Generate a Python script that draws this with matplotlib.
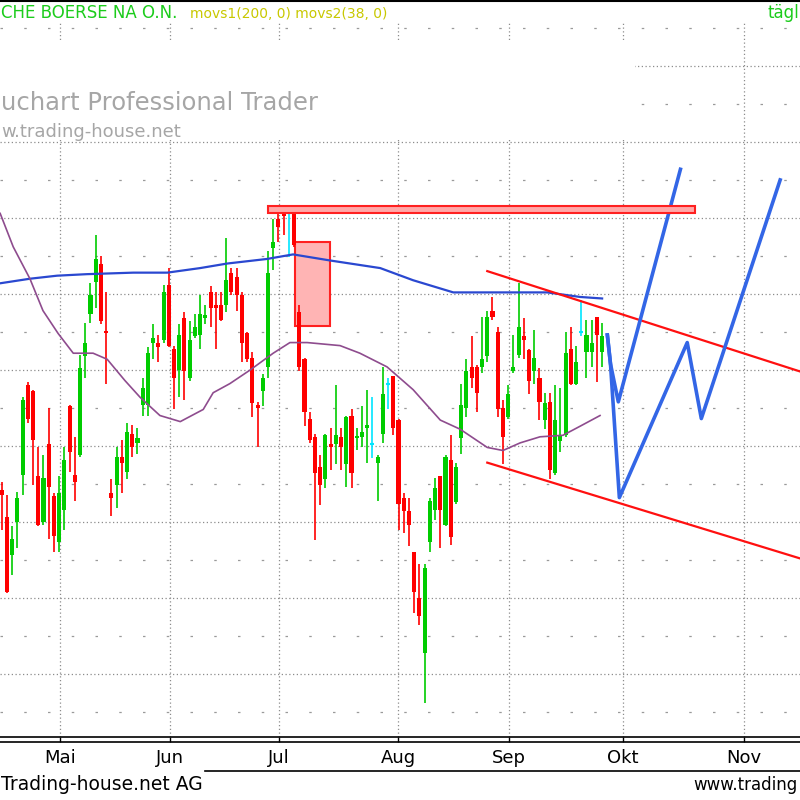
import matplotlib
matplotlib.use("Agg")
import matplotlib.pyplot as plt
from matplotlib.patches import Rectangle
from matplotlib.lines import Line2D
import numpy as np

# ---------------- data ----------------
opens = [97.1, 95.3, 92.8, 95.0, 98.1, 104.0, 103.6, 98.0, 95.0, 100.1,
         96.7, 93.7, 95.8, 102.6, 98.1, 99.4, 105.9, 108.7, 110.8, 112.0,
         107.5, 96.9, 97.4, 99.3, 98.3, 100.8, 100.2, 102.7, 102.7, 106.8,
         106.8, 107.0, 110.6, 106.4, 105.0, 108.4, 104.5, 107.2, 107.3, 108.4,
         110.1, 109.2, 109.3, 109.3, 111.4, 111.1, 109.9, 107.4, 105.8, 102.7,
         103.6, 105.2, 113.0, 114.9, 115.4, 115.6, 115.4, 108.8, 105.7, 101.8,
         100.6, 98.6, 97.8, 100.1, 100.1, 100.6, 98.8, 102.0, 100.5, 100.6,
         101.2, 100.1, 98.9, 100.8, 104.1, 104.6, 101.7, 96.6, 95.7, 93.0,
         90.0, 86.4, 93.7, 95.8, 98.0, 94.8, 99.1, 96.3, 100.5, 102.5,
         105.2, 105.2, 105.2, 105.9, 108.9, 107.5, 102.5, 101.9, 104.9, 106.0,
         107.2, 106.3, 104.9, 104.5, 101.7, 102.9, 98.2, 100.3, 100.7, 106.4,
         104.1, 107.5, 106.2, 106.2, 108.5, 106.2]
highs = [97.6, 96.8, 94.7, 97.0, 103.2, 104.2, 103.7, 99.9, 99.4, 102.5,
         96.9, 98.0, 99.9, 102.7, 100.6, 106.0, 108.1, 110.7, 113.9, 112.5,
         110.1, 97.8, 99.9, 100.4, 101.5, 101.4, 101.2, 104.5, 106.5, 108.0,
         107.3, 110.6, 111.7, 106.6, 108.0, 108.8, 108.2, 108.7, 109.9, 109.3,
         110.5, 110.1, 110.1, 113.7, 111.7, 111.7, 110.1, 107.5, 106.2, 102.9,
         104.7, 112.8, 114.9, 115.4, 115.7, 115.7, 115.7, 109.3, 105.8, 102.2,
         100.8, 99.4, 100.8, 101.2, 104.0, 101.2, 102.0, 102.4, 101.2, 102.6,
         103.7, 103.2, 99.4, 105.2, 104.5, 104.6, 101.8, 96.9, 96.6, 93.0,
         92.2, 92.2, 96.6, 97.9, 98.0, 99.4, 100.7, 98.9, 104.1, 105.7,
         107.2, 105.3, 108.5, 108.9, 109.8, 107.8, 103.0, 104.0, 107.3, 110.7,
         108.4, 106.4, 107.6, 105.1, 103.5, 103.5, 104.0, 103.8, 107.5, 107.8,
         106.6, 109.6, 108.3, 108.3, 108.5, 108.1]
lows = [94.5, 90.3, 91.5, 93.3, 96.8, 101.5, 97.4, 94.7, 94.8, 93.9,
        93.0, 93.0, 94.5, 98.3, 96.4, 99.3, 104.5, 108.1, 109.1, 108.0,
        104.1, 95.4, 95.9, 96.9, 97.8, 99.3, 99.5, 102.0, 102.0, 105.7,
        105.5, 106.8, 106.5, 102.4, 103.2, 103.0, 104.3, 107.1, 106.4, 108.0,
        107.8, 106.4, 108.2, 108.8, 109.9, 108.9, 105.5, 105.5, 101.9, 99.9,
        102.6, 104.5, 111.6, 113.4, 113.9, 112.4, 113.1, 104.9, 101.3, 100.2,
        93.8, 96.1, 97.2, 98.4, 98.8, 98.4, 97.3, 97.2, 99.7, 99.9,
        98.9, 99.2, 96.4, 100.2, 102.4, 100.7, 94.5, 94.3, 93.4, 89.0,
        88.2, 83.1, 93.0, 95.1, 93.3, 94.7, 93.5, 96.2, 99.5, 101.9,
        103.8, 102.2, 104.8, 105.5, 108.3, 101.9, 98.8, 101.8, 104.8, 105.8,
        105.7, 103.4, 104.1, 101.7, 101.1, 97.8, 98.1, 99.6, 100.6, 104.0,
        104.0, 107.2, 104.5, 105.2, 104.2, 105.2]
closes = [96.8, 90.4, 93.9, 96.6, 103.0, 101.8, 100.4, 94.8, 97.9, 97.3,
          94.1, 96.9, 99.1, 99.6, 97.6, 105.1, 106.8, 109.9, 112.3, 108.2,
          107.4, 96.6, 99.3, 98.9, 100.9, 99.9, 100.5, 103.8, 106.1, 107.1,
          106.5, 110.1, 106.6, 104.5, 107.3, 104.9, 107.0, 107.8, 108.7, 108.6,
          109.1, 109.1, 108.3, 110.9, 110.1, 109.9, 106.8, 105.7, 102.8, 102.5,
          104.5, 111.4, 113.4, 114.4, 115.1, 115.6, 113.2, 105.2, 102.2, 100.4,
          98.2, 97.4, 100.7, 99.9, 100.7, 99.9, 101.9, 98.2, 100.6, 100.9,
          101.4, 100.1, 99.3, 103.4, 104.1, 101.2, 96.2, 95.7, 94.8, 90.4,
          88.8, 92.0, 96.4, 97.2, 95.8, 99.3, 94.0, 98.6, 102.7, 104.9,
          104.5, 103.5, 105.7, 108.5, 108.5, 102.4, 100.6, 103.4, 105.2, 107.8,
          107.0, 104.3, 105.8, 102.9, 102.8, 98.4, 101.7, 100.7, 106.1, 104.1,
          105.5, 107.5, 107.3, 106.8, 107.3, 107.2]

# moving averages (day index / price)
ma200_x = [-0.3, 5.4, 10.6, 16.3, 25.2, 31.7, 38.0, 43.2, 50.8, 55.8,
           62.9, 72.5, 78.8, 86.5, 97.9, 104.5, 110.8, 115.0]
ma200_y = [110.7, 111.0, 111.2, 111.3, 111.4, 111.4, 111.7, 112.0, 112.3, 112.6,
           112.2, 111.7, 110.9, 110.1, 110.1, 110.1, 109.8, 109.7]
ma38_x = [-0.3, 2.2, 5.4, 7.9, 10.8, 13.7, 17.5, 20.2, 23.6, 26.5, 30.3,
          34.2, 38.6, 40.5, 43.7, 47.6, 52.0, 55.2, 58.5, 64.8, 68.6, 73.8,
          78.8, 84.0, 87.8, 93.0, 96.0, 99.3, 103.1, 107.5, 110.8, 114.6]
ma38_y = [115.3, 113.1, 111.0, 108.9, 107.4, 106.1, 106.1, 105.7, 104.3, 103.2, 102.0,
          101.6, 102.4, 103.5, 104.1, 105.0, 106.1, 106.8, 106.8, 106.6, 106.1, 105.2,
          103.7, 101.7, 101.1, 99.9, 99.7, 100.2, 100.6, 100.7, 101.3, 102.0]

month_pos = [11.17, 32.25, 53.12, 75.92, 97.18, 119.0, 142.2]
month_labels = ["Mai", "Jun", "Jul", "Aug", "Sep", "Okt", "Nov"]

band_x = [51.0, 132.8]
band_y = [115.3, 115.8]
gap_x = [56.2, 62.9]
gap_y = [107.9, 113.4]
upper_ch_x = [93.0, 152.9]
upper_ch_y = [111.5, 104.9]
lower_ch_x = [93.0, 152.9]
lower_ch_y = [98.9, 92.6]
projA_x = [116.0, 116.6, 118.1, 130.0]
projA_y = [107.3, 105.4, 102.9, 118.2]
projB_x = [116.0, 116.6, 118.3, 131.3, 134.0, 149.1]
projB_y = [107.3, 105.4, 96.6, 106.8, 101.8, 117.5]

# ---------------- figure ----------------
W, H = 800, 800
fig = plt.figure(figsize=(8, 8), dpi=100)
fig.patch.set_facecolor("white")

def fx(px):
    return px / W

def fy(py):
    return 1 - py / H

ax_top, ax_bot = 22, 737
ax = fig.add_axes([0, fy(ax_bot), 1, (ax_bot - ax_top) / H])
ax.set_facecolor("white")
ax.set_xlim(-0.33, 152.9)
ax.set_ylim(80.85, 127.89)

# grid
major = np.arange(85, 126, 5)
minor = np.arange(82.5, 128, 5)
for v in major:
    ax.axhline(v, color="#8c8c8c", lw=0.9, linestyle=(0, (1, 2)), zorder=1)
for v in minor:
    ax.axhline(v, color="#9a9a9a", lw=0.9, linestyle=(0, (2, 17)), zorder=1)
for m in month_pos:
    ax.axvline(m, color="#8c8c8c", lw=0.9, linestyle=(0, (1, 2)), zorder=1)

# white area behind the watermark
ax.add_patch(Rectangle((-0.33, 120.2), 121.6, 6.4, facecolor="white",
                       edgecolor="none", zorder=1.5))

# gap box and resistance band
ax.add_patch(Rectangle((gap_x[0], gap_y[0]), gap_x[1] - gap_x[0], gap_y[1] - gap_y[0],
                       facecolor="#ffb4b4", edgecolor="#ff2020", lw=1.5, zorder=2))
ax.add_patch(Rectangle((band_x[0], band_y[0]), band_x[1] - band_x[0], band_y[1] - band_y[0],
                       facecolor="#ffa8a8", edgecolor="#ff2020", lw=1.5, zorder=5))

# candles
n = len(opens)
xs = np.arange(n)
for i in range(n):
    o, h, l, c = opens[i], highs[i], lows[i], closes[i]
    if c > o:
        col = "#00cc00"
    elif c < o:
        col = "#ff0000"
    else:
        col = "#00e5ff"
    ax.vlines(xs[i], l, h, color=col, lw=1.2, zorder=3)
    if c == o:
        ax.hlines(o, xs[i] - 0.4, xs[i] + 0.4, color=col, lw=1.5, zorder=3)
    else:
        bot = min(o, c)
        hgt = max(abs(c - o), 0.18)
        ax.bar(xs[i], hgt, bottom=bot, width=0.78, color=col, edgecolor="none",
               zorder=3)

# moving averages
ax.plot(ma200_x, ma200_y, color="#2a48d0", lw=1.6, zorder=4)
ax.plot(ma38_x, ma38_y, color="#8e4c8e", lw=1.2, zorder=4)

# channel and projections
ax.plot(upper_ch_x, upper_ch_y, color="#ff1010", lw=1.6, zorder=4)
ax.plot(lower_ch_x, lower_ch_y, color="#ff1010", lw=1.6, zorder=4)
ax.plot(projA_x, projA_y, color="#3366e6", lw=2.6, zorder=4, solid_joinstyle="round")
ax.plot(projB_x, projB_y, color="#3366e6", lw=2.6, zorder=4, solid_joinstyle="round")

# axes styling
for s in ["left", "right", "top"]:
    ax.spines[s].set_visible(False)
ax.spines["bottom"].set_color("black")
ax.spines["bottom"].set_linewidth(1.2)
ax.set_yticks([])
ax.set_xticks(month_pos)
ax.set_xticklabels(month_labels, fontsize=13, color="#111111")
ax.tick_params(axis="x", direction="out", length=3.5, width=1, pad=5, colors="black")

# frame lines
fig.add_artist(Line2D([0, 1], [fy(1), fy(1)], color="black", lw=1.5))
fig.add_artist(Line2D([0, 1], [fy(742), fy(742)], color="black", lw=1.2))
fig.add_artist(Line2D([fx(205), 1], [fy(771), fy(771)], color="black", lw=1.2))

# texts (the visible parts of the cropped original)
fig.text(fx(1), fy(13), "CHE BOERSE NA O.N.", ha="left", va="center",
         color="#1ccc1c", fontsize=12)
fig.text(fx(190), fy(14), "movs1(200, 0) movs2(38, 0)", ha="left", va="center",
         color="#c8c800", fontsize=10)
fig.text(fx(767), fy(13), "tägl", ha="left", va="center",
         color="#1ccc1c", fontsize=12)
fig.text(fx(1), fy(103), "uchart Professional Trader", ha="left", va="center",
         color="#a6a6a6", fontsize=17.5)
fig.text(fx(1), fy(132), "w.trading-house.net", ha="left", va="center",
         color="#a6a6a6", fontsize=13)
fig.text(fx(1), fy(785), "Trading-house.net AG", ha="left", va="center",
         color="black", fontsize=13.5)
fig.text(fx(798), fy(785), "www.trading", ha="right", va="center",
         color="black", fontsize=12)

fig.savefig("out.png", dpi=100, facecolor="white")
